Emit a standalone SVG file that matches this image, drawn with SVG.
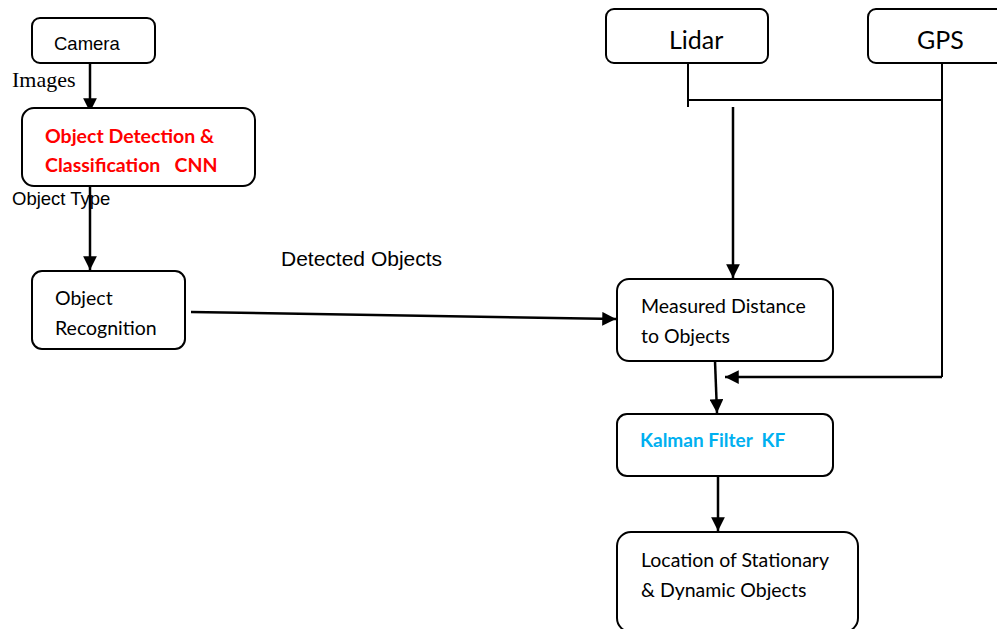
<svg xmlns="http://www.w3.org/2000/svg" width="997" height="629" viewBox="0 0 997 629">
  <style>
    .box { fill: #ffffff; stroke: #000000; stroke-width: 2; }
    .line { fill: none; stroke: #000000; stroke-width: 2; }
    .arrow { fill: none; stroke: #000000; stroke-width: 2.5; marker-end: url(#head); }
    .cal { font-family: Lato, "Open Sans", sans-serif; font-size: 19.5px; fill: #000000; }
    .ari { font-family: "Liberation Sans", Arial, sans-serif; fill: #000000; }
    .ser { font-family: "Liberation Serif", "Times New Roman", serif; fill: #000000; }
    .red { font-family: Lato, "Open Sans", sans-serif; font-size: 19.5px; font-weight: bold; fill: #ff0000; }
    .blue { font-family: Lato, "Open Sans", sans-serif; font-size: 19px; font-weight: bold; fill: #00b0f0; }
  </style>
  <defs>
    <marker id="head" viewBox="0 0 10 10" refX="10" refY="5" markerWidth="5.5" markerHeight="5.5" markerUnits="strokeWidth" orient="auto">
      <path d="M0,0 L10,5 L0,10 Z" fill="#000000"/>
    </marker>
  </defs>

  <g id="connectors">
    <line class="arrow" x1="90" y1="63" x2="90" y2="112"/>
    <line class="arrow" x1="90" y1="186" x2="90" y2="270"/>
    <line class="arrow" x1="191" y1="312" x2="616" y2="319"/>
    <polyline class="line" points="688,63 688,107"/>
    <polyline class="line" points="688,100 942,100"/>
    <polyline class="line" points="942,63 942,377"/>
    <line class="arrow" x1="733" y1="107" x2="733" y2="278"/>
    <line class="arrow" x1="942" y1="377" x2="725" y2="377"/>
    <line class="arrow" x1="715" y1="361" x2="717" y2="413"/>
    <line class="arrow" x1="718" y1="476" x2="718" y2="531"/>
    <text class="ser" x="12" y="87" style="font-size:22px">Images</text>
    <text class="ari" x="12" y="205" style="font-size:18.5px">Object Type</text>
    <text class="ari" x="281" y="266" style="font-size:21px">Detected Objects</text>
  </g>

  <g id="camera">
    <rect class="box" x="32" y="18" width="123" height="45" rx="8"/>
    <text class="ari" x="54" y="50" style="font-size:18.5px">Camera</text>
  </g>

  <g id="detection">
    <rect class="box" x="22" y="108" width="233" height="78" rx="12"/>
    <text class="red" x="45" y="143">Object Detection &amp;</text>
    <text class="red" x="45" y="172" xml:space="preserve">Classification   CNN</text>
  </g>

  <g id="recognition">
    <rect class="box" x="32" y="271" width="153" height="78" rx="10"/>
    <text class="cal" x="55" y="305">Object</text>
    <text class="cal" x="55" y="335">Recognition</text>
  </g>

  <g id="lidar">
    <rect class="box" x="606" y="9" width="162" height="54" rx="8"/>
    <text class="cal" x="669" y="49" style="font-size:25px">Lidar</text>
  </g>

  <g id="gps">
    <rect class="box" x="868" y="9" width="140" height="54" rx="8"/>
    <text class="cal" x="917" y="49" style="font-size:25px">GPS</text>
  </g>

  <g id="distance">
    <rect class="box" x="617" y="279" width="216" height="82" rx="12"/>
    <text class="cal" x="641" y="313">Measured Distance</text>
    <text class="cal" x="641" y="343">to Objects</text>
  </g>

  <g id="kalman">
    <rect class="box" x="617" y="414" width="216" height="62" rx="10"/>
    <text class="blue" x="640" y="447" xml:space="preserve">Kalman Filter  KF</text>
  </g>

  <g id="location">
    <rect class="box" x="617" y="532" width="241" height="100" rx="14"/>
    <text class="cal" x="641" y="567">Location of Stationary</text>
    <text class="cal" x="641" y="597">&amp; Dynamic Objects</text>
  </g>
</svg>
